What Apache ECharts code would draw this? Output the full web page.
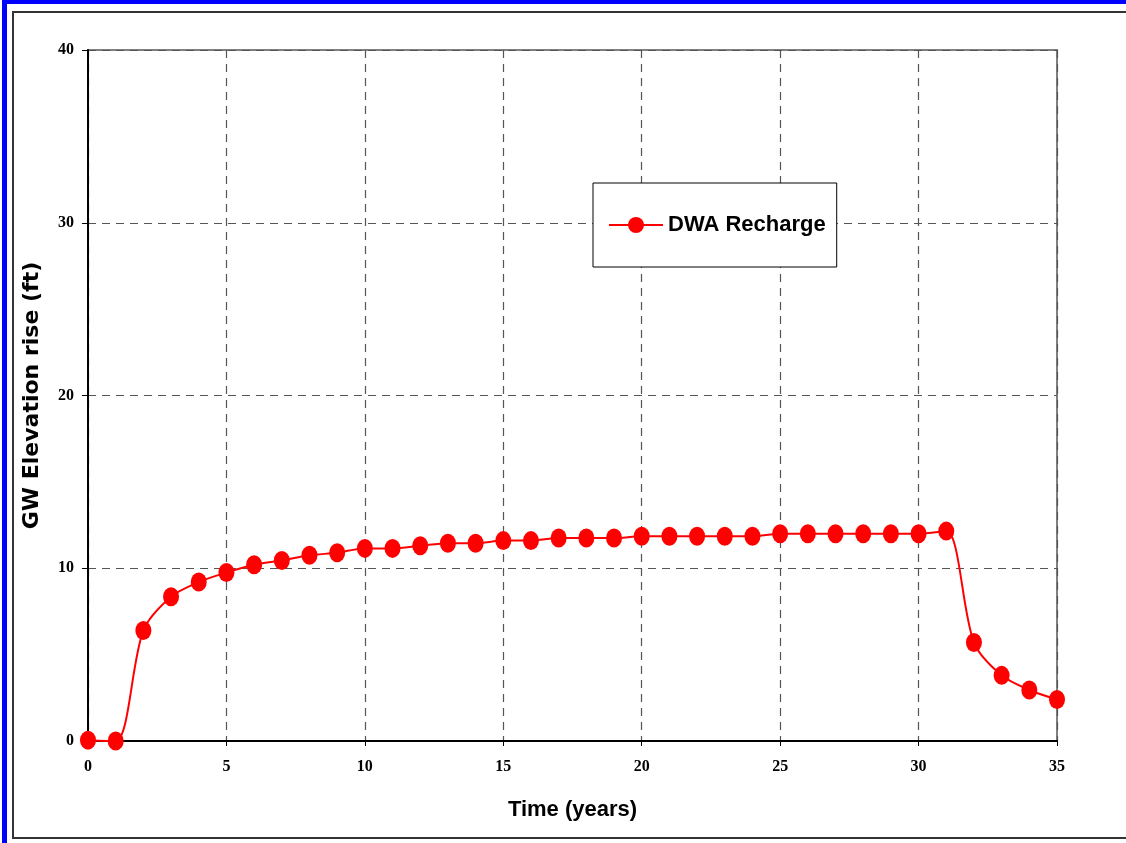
<!DOCTYPE html>
<html>
<head>
<meta charset="utf-8">
<script src="https://cdn.jsdelivr.net/npm/echarts@6/dist/echarts.min.js"></script>
<style>html,body{margin:0;padding:0;background:#fff;}#c{width:1126px;height:843px;}</style>
</head>
<body>
<div id="c"></div>
<script>
const years = [0,1,2,3,4,5,6,7,8,9,10,11,12,13,14,15,16,17,18,19,20,21,22,23,24,25,26,27,28,29,30,31,32,33,34,35];
const dwaRecharge = [0.05,0,6.4,8.35,9.2,9.75,10.2,10.45,10.75,10.9,11.15,11.15,11.3,11.45,11.45,11.6,11.6,11.75,11.75,11.75,11.85,11.85,11.85,11.85,11.85,12.0,12.0,12.0,12.0,12.0,12.0,12.15,5.7,3.8,2.95,2.4];
const seriesName = 'DWA Recharge';
const xTitle = 'Time (years)';
const yTitle = 'GW Elevation rise (ft)';

const chart = echarts.init(document.getElementById('c'), null, {renderer: 'canvas'});
const tickFont = {fontFamily: 'Liberation Serif', fontWeight: 'bold', fontSize: 16, color: '#000'};
chart.setOption({
  animation: false,
  backgroundColor: '#fff',
  graphic: [
    {type: 'rect', shape: {x: 2, y: 0, width: 5, height: 843}, style: {fill: '#0000ff'}, silent: true},
    {type: 'rect', shape: {x: 2, y: 0, width: 1124, height: 4}, style: {fill: '#0000ff'}, silent: true},
    {type: 'rect', shape: {x: 13, y: 12, width: 1125, height: 826}, style: {fill: 'none', stroke: '#333', lineWidth: 2}, silent: true, z: -1}
  ],
  grid: {left: 88, right: 69, top: 50, bottom: 102, show: true, borderColor: '#808080', borderWidth: 2, backgroundColor: 'transparent'},
  legend: {
    data: [seriesName],
    left: 593, top: 183,
    backgroundColor: '#fff', borderColor: '#000', borderWidth: 1,
    padding: [31, 11, 31, 15],
    itemWidth: 54, itemHeight: 20, itemGap: 6,
    textStyle: {fontFamily: 'Liberation Sans', fontWeight: 'bold', fontSize: 22, color: '#000'}
  },
  xAxis: {
    type: 'value', min: 0, max: 35, interval: 5,
    name: xTitle, nameLocation: 'middle', nameGap: 58,
    nameTextStyle: {fontFamily: 'Liberation Sans', fontWeight: 'bold', fontSize: 22, color: '#000'},
    axisLine: {show: true, onZero: false, lineStyle: {color: '#000', width: 2}},
    axisTick: {show: true, length: 5, lineStyle: {color: '#000'}},
    axisLabel: Object.assign({margin: 18}, tickFont),
    splitLine: {show: true, lineStyle: {type: [8, 6], color: '#555', width: 1.2}}
  },
  yAxis: {
    type: 'value', min: 0, max: 40, interval: 10,
    name: yTitle, nameLocation: 'middle', nameGap: 45, nameRotate: 90,
    nameTextStyle: {fontFamily: 'DejaVu Sans', fontWeight: 'bold', fontSize: 22, color: '#000'},
    axisLine: {show: true, lineStyle: {color: '#000', width: 2}},
    axisTick: {show: true, length: 6, lineStyle: {color: '#000'}},
    axisLabel: Object.assign({margin: 14}, tickFont),
    splitLine: {show: true, lineStyle: {type: [8, 6], color: '#555', width: 1.2}}
  },
  series: [{
    name: seriesName,
    type: 'line',
    data: years.map((x, i) => [x, dwaRecharge[i]]),
    smooth: 0.3,
    symbol: 'circle',
    symbolSize: [16, 19],
    itemStyle: {color: '#ff0000'},
    lineStyle: {color: '#ff0000', width: 2},
    z: 5
  }]
});
</script>
</body>
</html>
